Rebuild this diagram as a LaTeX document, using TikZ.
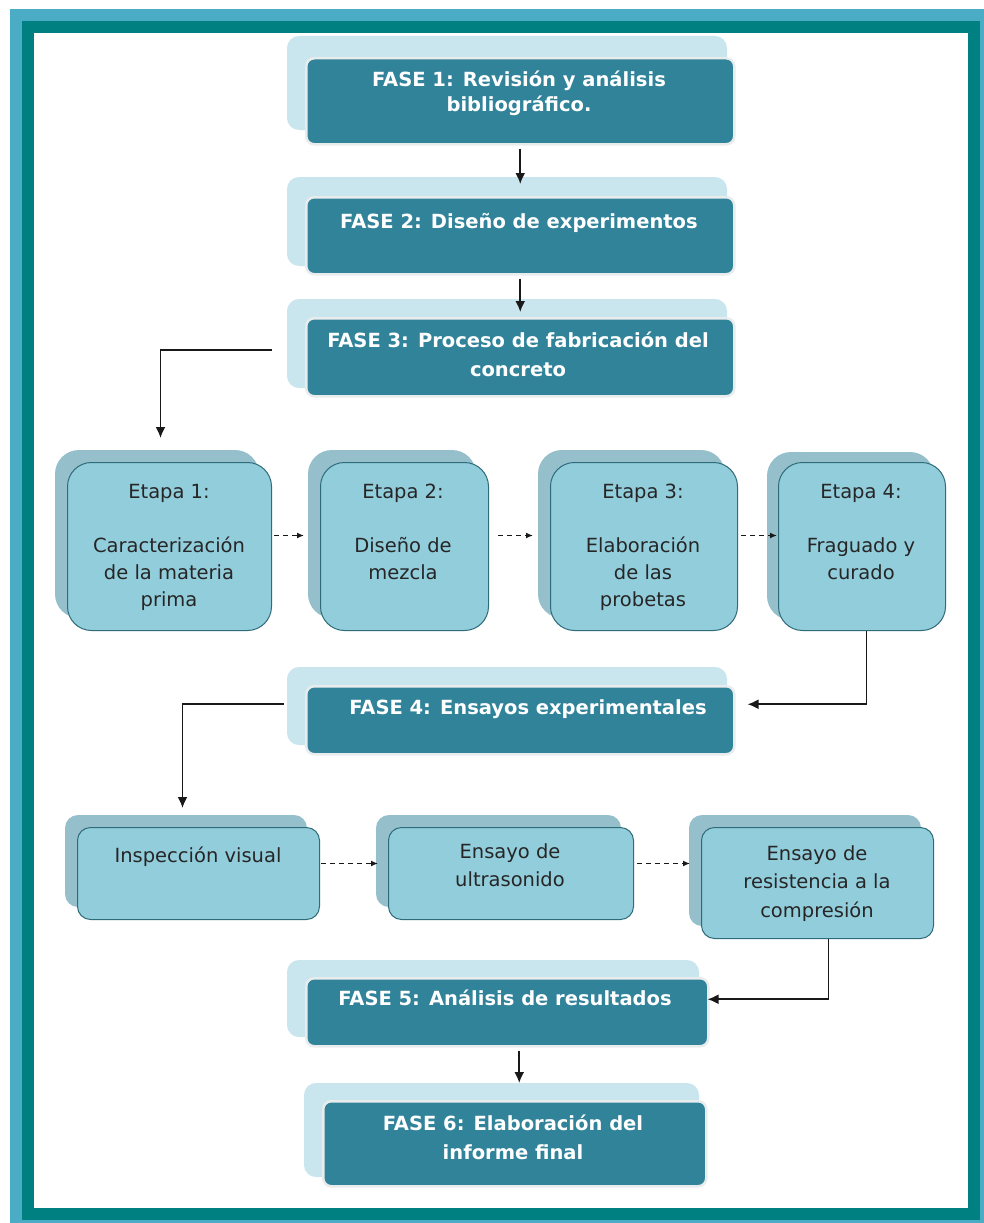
\documentclass[tikz,border=0pt]{standalone}
\usepackage{fontspec}
\setmainfont{DejaVu Sans}
\usetikzlibrary{arrows.meta,calc}
\definecolor{frameout}{HTML}{4BACC6}
\definecolor{framein}{HTML}{008080}
\definecolor{fasefill}{HTML}{31839A}
\definecolor{faseback}{HTML}{C9E6EE}
\definecolor{faseglow}{HTML}{E8ECED}
\definecolor{etfill}{HTML}{92CDDC}
\definecolor{etback}{HTML}{94BFCB}
\definecolor{etline}{HTML}{2E6C7A}
\newcommand{\mytab}[1]{\begin{tabular}[t]{@{}c@{}}#1\end{tabular}}
\begin{document}
\begin{tikzpicture}[x=1pt,y=-1pt,
  fasebox/.style={draw=faseglow, line width=2.5pt, fill=fasefill, rounded corners=8pt, inner sep=0pt, anchor=north west},
  faseback/.style={fill=faseback, rounded corners=12pt},
  etbox/.style={draw=etline, line width=1pt, fill=etfill, rounded corners=24pt, inner sep=0pt, anchor=north west},
  etbackbox/.style={fill=etback, rounded corners=24pt},
  ensbox/.style={draw=etline, line width=1pt, fill=etfill, rounded corners=13pt, inner sep=0pt, anchor=north west},
  ensbackbox/.style={fill=etback, rounded corners=13pt},
  fasetext/.style={anchor=base, inner sep=0pt, text=white, font=\fontsize{19.5}{28}\selectfont\bfseries},
  ettext/.style={anchor=base, inner sep=0pt, text=black!85, font=\fontsize{19.5}{27}\selectfont},
  enstext/.style={anchor=base, inner sep=0pt, text=black!85, font=\fontsize{19.5}{28.5}\selectfont},
  arr/.style={draw=black!90, line width=1.8pt, -{Latex[length=11pt,width=10pt]}},
  darr/.style={draw=black!90, line width=1.4pt, dash pattern=on 5pt off 4pt, -{Latex[length=7pt,width=6pt]}}
]
\useasboundingbox (0,0) rectangle (984,1223);
% frame
\fill[frameout] (10,9) rectangle (984,1223);
\fill[framein] (22,21) rectangle (980,1220);
\fill[white] (34,33) rectangle (968,1208);

% FASE back boxes
\fill[faseback] (287,36) rectangle (727,130);
\fill[faseback] (287,177) rectangle (727,266);
\fill[faseback] (287,299) rectangle (727,388);
\fill[faseback] (287,667) rectangle (727,745);
\fill[faseback] (287,960) rectangle (699,1037);
\fill[faseback] (304,1083) rectangle (699,1177);

% FASE front boxes
\node[fasebox, minimum width=428pt, minimum height=86pt] (f1) at (305,57) {};
\node[fasebox, minimum width=428pt, minimum height=77pt] (f2) at (305,196) {};
\node[fasebox, minimum width=428pt, minimum height=78pt] (f3) at (305,317) {};
\node[fasebox, minimum width=428pt, minimum height=68pt] (f4) at (305,685) {};
\node[fasebox, minimum width=402pt, minimum height=68pt] (f5) at (305,977) {};
\node[fasebox, minimum width=383pt, minimum height=85pt] (f6) at (322,1100) {};

\node[fasetext] (f1t) at (519,86) {\mytab{FASE 1: Revisión y análisis\\[-3pt]bibliográfico.}};
\node[fasetext] (f2t) at (519,228) {FASE 2: Diseño de experimentos};
\node[fasetext] (f3t) at (518,347) {\mytab{FASE 3: Proceso de fabricación del\\[1pt]concreto}};
\node[fasetext] (f4t) at (528,714) {FASE 4: Ensayos experimentales};
\node[fasetext] (f5t) at (505,1005) {FASE 5: Análisis de resultados};
\node[fasetext] (f6t) at (513,1130) {\mytab{FASE 6: Elaboración del\\[1pt]informe final}};

% Etapa boxes
\fill[etbackbox] (55,450) rectangle (259,618);
\fill[etbackbox] (308,450) rectangle (476,618);
\fill[etbackbox] (538,450) rectangle (725,618);
\fill[etbackbox] (767,452) rectangle (934,620);
\node[etbox, minimum width=204pt, minimum height=168pt] (e1) at (67,462) {};
\node[etbox, minimum width=168pt, minimum height=168pt] (e2) at (320,462) {};
\node[etbox, minimum width=187pt, minimum height=168pt] (e3) at (550,462) {};
\node[etbox, minimum width=167pt, minimum height=168pt] (e4) at (778,462) {};
\node[ettext] (e1t) at (169,498) {\mytab{Etapa 1:\\[27pt]Caracterización\\de la materia\\prima}};
\node[ettext] (e2t) at (403,498) {\mytab{Etapa 2:\\[27pt]Diseño de\\mezcla}};
\node[ettext] (e3t) at (643,498) {\mytab{Etapa 3:\\[27pt]Elaboración\\de las\\probetas}};
\node[ettext] (e4t) at (861,498) {\mytab{Etapa 4:\\[27pt]Fraguado y\\curado}};

% Ensayo boxes
\fill[ensbackbox] (65,815) rectangle (307,907);
\fill[ensbackbox] (376,815) rectangle (621,907);
\fill[ensbackbox] (689,815) rectangle (921,926);
\node[ensbox, minimum width=242pt, minimum height=92pt] (i) at (77,827) {};
\node[ensbox, minimum width=245pt, minimum height=92pt] (u) at (388,827) {};
\node[ensbox, minimum width=232pt, minimum height=111pt] (r) at (701,827) {};
\node[enstext] (it) at (198,862) {Inspección visual};
\node[enstext] (ut) at (510,858) {\mytab{Ensayo de\\ultrasonido}};
\node[enstext] (rt) at (817,860) {\mytab{Ensayo de\\resistencia a la\\compresión}};

% connectors
\draw[arr] ($(f1.south)+(0,3)$) -- ($(f2.north)+(0,-12)$);
\draw[arr] ($(f2.south)+(0,3)$) -- ($(f3.north)+(0,-5)$);
\coordinate (c3) at ($(f3.west)+(-33,-7)$);
\draw[arr] (c3) -| ($(e1.north)+(-9,-24)$);
\draw[darr] ($(e1.east)+(2,-11)$) -- ($(e2.west)+(-16,-11)$);
\draw[darr] ($(e2.east)+(9,-11)$) -- ($(e3.west)+(-17,-11)$);
\draw[darr] ($(e3.east)+(3,-11)$) -- ($(e4.west)+(-1,-11)$);
\draw[arr] ($(e4.south)+(4.5,0)$) |- ($(f4.east)+(12,-16)$);
\coordinate (c4) at ($(f4.west)+(-21,-16)$);
\draw[arr] (c4) -| ($(i.north)+(-16,-19)$);
\draw[darr] ($(i.east)+(1,-10)$) -- ($(u.west)+(-10,-10)$);
\draw[darr] ($(u.east)+(3,-10)$) -- ($(r.west)+(-11,-19.5)$);
\draw[arr] ($(r.south)+(11,0)$) |- ($(f5.east)+(-2,-13)$);
\draw[arr] ($(f5.south)+(12,3)$) -- ($(f6.north)+(4.5,-17)$);
\end{tikzpicture}
\end{document}
